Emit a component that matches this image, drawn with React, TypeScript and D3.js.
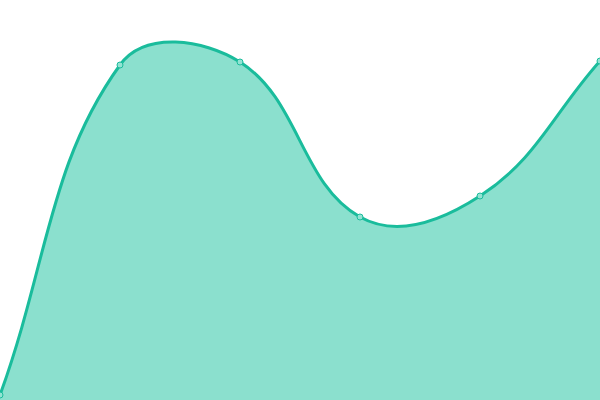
import { useEffect, useRef } from "react";
import * as d3 from "d3";

const width = 600;
const height = 400;

// categories along x (no axes shown)
const labels = ["A", "B", "C", "D", "E", "F"];
const values = [5, 335, 338, 183, 204, 339];

const lineColor = "#1abc9c";
const fillColor = "#8be0ce";
const pointFill = "#93e3d3";

// spline like Chart.js tension 0.4 (distance weighted control points)
function SplineCurve(this: any, context: any, tension: number) {
  this._context = context;
  this._t = tension;
}
SplineCurve.prototype = {
  areaStart() {
    this._line = 0;
  },
  areaEnd() {
    this._line = NaN;
  },
  lineStart() {
    this._xs = [];
    this._ys = [];
  },
  point(x: number, y: number) {
    this._xs.push(+x);
    this._ys.push(+y);
  },
  lineEnd() {
    const xs: number[] = this._xs;
    const ys: number[] = this._ys;
    const n = xs.length;
    const ctx = this._context;
    if (n) {
      if (this._line) ctx.lineTo(xs[0], ys[0]);
      else ctx.moveTo(xs[0], ys[0]);
      const cpPrev: [number, number][] = [];
      const cpNext: [number, number][] = [];
      for (let i = 0; i < n; i++) {
        const p = i > 0 ? i - 1 : i;
        const q = i < n - 1 ? i + 1 : i;
        const d01 = Math.hypot(xs[i] - xs[p], ys[i] - ys[p]);
        const d12 = Math.hypot(xs[q] - xs[i], ys[q] - ys[i]);
        let s01 = d01 / (d01 + d12);
        let s12 = d12 / (d01 + d12);
        if (isNaN(s01)) s01 = 0;
        if (isNaN(s12)) s12 = 0;
        const fa = this._t * s01;
        const fb = this._t * s12;
        const dx = xs[q] - xs[p];
        const dy = ys[q] - ys[p];
        cpPrev.push([xs[i] - fa * dx, ys[i] - fa * dy]);
        cpNext.push([xs[i] + fb * dx, ys[i] + fb * dy]);
      }
      for (let i = 0; i < n - 1; i++) {
        ctx.bezierCurveTo(
          cpNext[i][0],
          cpNext[i][1],
          cpPrev[i + 1][0],
          cpPrev[i + 1][1],
          xs[i + 1],
          ys[i + 1],
        );
      }
    }
    if (this._line || (this._line !== 0 && n === 1)) ctx.closePath();
    this._line = 1 - this._line;
  },
};

const curveSpline = (context: any) => new (SplineCurve as any)(context, 0.4);

export default function App() {
  const svgRef = useRef<SVGSVGElement | null>(null);

  useEffect(() => {
    if (!svgRef.current) return;
    const svg = d3.select(svgRef.current);

    const x = d3
      .scalePoint<string>()
      .domain(labels)
      .range([0, width]);

    const y = d3.scaleLinear().domain([0, 400]).range([height, 0]);

    const data = labels.map((l, i) => ({ label: l, value: values[i] }));

    const area = d3
      .area<{ label: string; value: number }>()
      .x((d) => x(d.label) ?? 0)
      .y0(height)
      .y1((d) => y(d.value))
      .curve(curveSpline as any);

    const line = d3
      .line<{ label: string; value: number }>()
      .x((d) => x(d.label) ?? 0)
      .y((d) => y(d.value))
      .curve(curveSpline as any);

    svg
      .select(".area")
      .selectAll("path")
      .data([data])
      .join("path")
      .attr("d", area)
      .attr("fill", fillColor);

    svg
      .select(".line")
      .selectAll("path")
      .data([data])
      .join("path")
      .attr("d", line)
      .attr("fill", "none")
      .attr("stroke", lineColor)
      .attr("stroke-width", 3);

    svg
      .select(".points")
      .selectAll("circle")
      .data(data)
      .join("circle")
      .attr("cx", (d) => x(d.label) ?? 0)
      .attr("cy", (d) => y(d.value))
      .attr("r", 3)
      .attr("fill", pointFill)
      .attr("stroke", lineColor)
      .attr("stroke-width", 1);
  }, []);

  return (
    <svg
      ref={svgRef}
      width={width}
      height={height}
      style={{ position: "absolute", left: 0, top: 0, background: "#fff" }}
    >
      <g className="area" />
      <g className="line" />
      <g className="points" />
    </svg>
  );
}
